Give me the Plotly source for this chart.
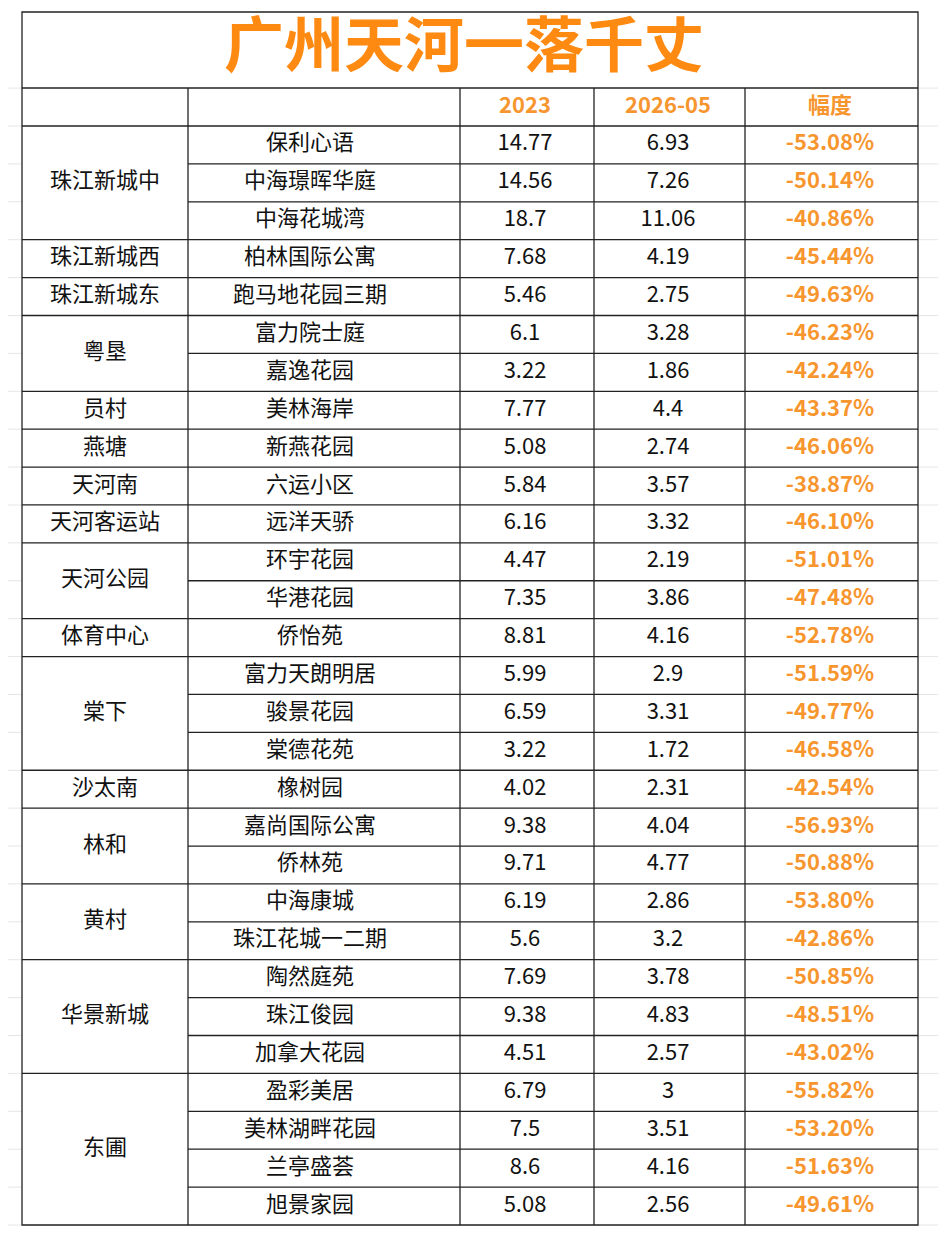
import plotly.graph_objects as go

# data
title = "广州天河一落千丈"
headers = ["", "", "2023", "2026-05", "幅度"]
districts = ["珠江新城中", "珠江新城西", "珠江新城东", "粤垦", "员村", "燕塘", "天河南", "天河客运站",
             "天河公园", "体育中心", "棠下", "沙太南", "林和", "黄村", "华景新城", "东圃"]
district_rows = [3, 1, 1, 2, 1, 1, 1, 1, 2, 1, 3, 1, 2, 2, 3, 4]
estates = ["保利心语", "中海璟晖华庭", "中海花城湾", "柏林国际公寓", "跑马地花园三期", "富力院士庭", "嘉逸花园",
           "美林海岸", "新燕花园", "六运小区", "远洋天骄", "环宇花园", "华港花园", "侨怡苑", "富力天朗明居",
           "骏景花园", "棠德花苑", "橡树园", "嘉尚国际公寓", "侨林苑", "中海康城", "珠江花城一二期", "陶然庭苑",
           "珠江俊园", "加拿大花园", "盈彩美居", "美林湖畔花园", "兰亭盛荟", "旭景家园"]
price_2023 = ["14.77", "14.56", "18.7", "7.68", "5.46", "6.1", "3.22", "7.77", "5.08", "5.84", "6.16", "4.47",
              "7.35", "8.81", "5.99", "6.59", "3.22", "4.02", "9.38", "9.71", "6.19", "5.6", "7.69", "9.38",
              "4.51", "6.79", "7.5", "8.6", "5.08"]
price_2026 = ["6.93", "7.26", "11.06", "4.19", "2.75", "3.28", "1.86", "4.4", "2.74", "3.57", "3.32", "2.19",
              "3.86", "4.16", "2.9", "3.31", "1.72", "2.31", "4.04", "4.77", "2.86", "3.2", "3.78", "4.83",
              "2.57", "3", "3.51", "4.16", "2.56"]
change = ["-53.08%", "-50.14%", "-40.86%", "-45.44%", "-49.63%", "-46.23%", "-42.24%", "-43.37%", "-46.06%",
          "-38.87%", "-46.10%", "-51.01%", "-47.48%", "-52.78%", "-51.59%", "-49.77%", "-46.58%", "-42.54%",
          "-56.93%", "-50.88%", "-53.80%", "-42.86%", "-50.85%", "-48.51%", "-43.02%", "-55.82%", "-53.20%",
          "-51.63%", "-49.61%"]

# layout in pixels (page has an 8px body margin, so the axes are offset by it)
col_edges = [22, 188, 460, 594, 745, 918]
col_centers = [105, 310, 525, 668, 830]
title_top, head_top, body_top, body_bot = 12, 88, 126, 1225
row_h = (body_bot - body_top) / len(estates)
orange = "#F7962F"
font = "Noto Sans CJK SC"

def row_y(i):
    return body_top + row_h * (i + 0.5)

fig = go.Figure()
shapes = []
line = dict(color="#222", width=1.3)

# faint spreadsheet grid
for k in range(len(estates) + 3):
    y = body_top + row_h * (k - 1)
    shapes.append(dict(type="line", x0=0, x1=946, y0=y, y1=y, line=dict(color="#e6e6e6", width=1), layer="below"))

shapes.append(dict(type="rect", x0=col_edges[0], x1=col_edges[-1], y0=title_top, y1=body_bot,
                   line=line, fillcolor="white", layer="below"))
shapes.append(dict(type="line", x0=col_edges[0], x1=col_edges[-1], y0=head_top, y1=head_top, line=line))
for x in col_edges[1:-1]:
    shapes.append(dict(type="line", x0=x, x1=x, y0=head_top, y1=body_bot, line=line))
# row lines: full width at group boundaries, partial inside groups
start = 0
group_mid = []
for n in district_rows:
    group_mid.append(body_top + row_h * (start + n / 2))
    for r in range(n):
        y = body_top + row_h * (start + r)
        x0 = col_edges[0] if r == 0 else col_edges[1]
        shapes.append(dict(type="line", x0=x0, x1=col_edges[-1], y0=y, y1=y, line=line))
    start += n

ys = [row_y(i) for i in range(len(estates))]
fig.add_trace(go.Scatter(x=[col_centers[0]] * len(districts), y=group_mid, text=districts, mode="text",
                         textfont=dict(family=font, size=22, color="#111")))
fig.add_trace(go.Scatter(x=[col_centers[1]] * len(estates), y=ys, text=estates, mode="text",
                         textfont=dict(family=font, size=22, color="#111")))
fig.add_trace(go.Scatter(x=[col_centers[2]] * len(estates), y=ys, text=price_2023, mode="text",
                         textfont=dict(family=font, size=22, color="#111")))
fig.add_trace(go.Scatter(x=[col_centers[3]] * len(estates), y=ys, text=price_2026, mode="text",
                         textfont=dict(family=font, size=22, color="#111")))
fig.add_trace(go.Scatter(x=[col_centers[4]] * len(estates), y=ys, text=["<b>%s</b>" % c for c in change],
                         mode="text", textfont=dict(family=font, size=22, color=orange)))
fig.add_trace(go.Scatter(x=col_centers[2:], y=[(head_top + body_top) / 2] * 3,
                         text=["<b>%s</b>" % h for h in headers[2:]], mode="text",
                         textfont=dict(family=font, size=22, color=orange)))
fig.add_trace(go.Scatter(x=[(col_edges[0] + col_edges[-1]) / 2 - 6], y=[(title_top + head_top) / 2 + 2],
                         text=["<b>%s</b>" % title], mode="text",
                         textfont=dict(family=font, size=60, color="#FF8A12")))

fig.update_layout(width=946, height=1239, margin=dict(l=0, r=0, t=0, b=0), showlegend=False,
                  plot_bgcolor="white", paper_bgcolor="white", shapes=shapes,
                  xaxis=dict(range=[8, 954], visible=False, fixedrange=True),
                  yaxis=dict(range=[1247, 8], visible=False, fixedrange=True))
fig.write_html("out.html")
